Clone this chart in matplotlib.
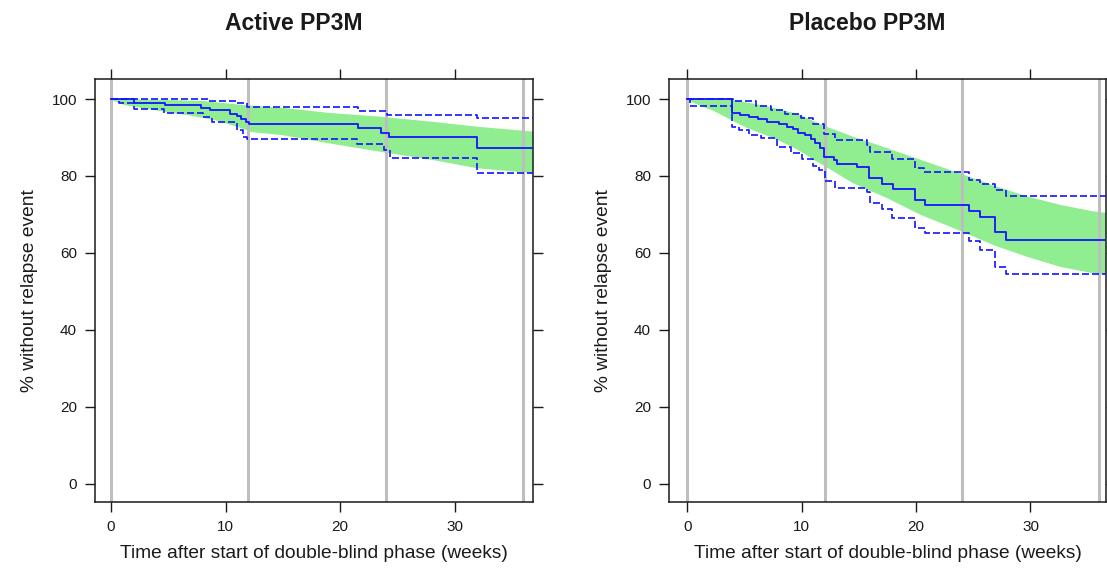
import matplotlib
matplotlib.use("Agg")
import matplotlib.pyplot as plt

plt.rcParams['font.family'] = ['Liberation Sans', 'DejaVu Sans']

# ---------------- data ----------------
titles = ["Active PP3M", "Placebo PP3M"]
xlabel = "Time after start of double-blind phase (weeks)"
ylabel = "% without relapse event"
xticks = [0, 10, 20, 30]
yticks = [0, 20, 40, 60, 80, 100]
ref_weeks = [0, 12, 24, 36]

# Active: Kaplan-Meier estimate (step, post)
act_km_t = [0, 2.0, 4.7, 7.9, 8.6, 10.4, 11.0, 11.35, 11.75, 12.05, 21.6, 23.6, 24.3, 32.0, 38]
act_km_s = [100, 99.0, 98.4, 97.7, 97.1, 96.2, 95.6, 94.9, 94.0, 93.4, 92.5, 91.3, 90.2, 87.4, 87.4]
act_up_t = [0, 8.5, 11.0, 11.9, 21.6, 24.1, 32.0, 38]
act_up_s = [100, 99.6, 98.9, 97.8, 97.0, 95.8, 95.0, 95.0]
act_lo_t = [0, 0.73, 2.0, 4.66, 8.07, 8.8, 11.0, 11.56, 11.85, 21.5, 23.8, 24.37, 32.0, 38]
act_lo_s = [100, 98.9, 97.3, 96.3, 95.4, 94.1, 91.9, 90.2, 89.5, 88.3, 86.8, 84.8, 80.7, 80.7]
# Active: shaded band
act_band_up_t = [0, 4, 8, 11.7, 15, 19, 23.5, 28, 32, 37]
act_band_up_s = [100, 99.8, 99.5, 98.4, 97.7, 96.4, 95.4, 94.1, 92.8, 91.5]
act_band_lo_t = [0, 1.2, 3.8, 6.7, 9.1, 11.1, 12.3, 15, 19, 23.5, 28, 32, 37]
act_band_lo_s = [99.8, 98.4, 97.1, 95.8, 94.5, 92.7, 91.4, 90.6, 88.5, 86.3, 84.2, 82.0, 80.7]

# Placebo: Kaplan-Meier estimate
pla_km_t = [0, 3.9, 4.6, 5.4, 6.2, 7.0, 8.0, 8.7, 9.2, 9.7, 10.3, 10.8, 11.2, 11.6, 11.95,
            12.8, 13.1, 14.8, 15.9, 17.0, 18.0, 19.9, 20.8, 24.6, 25.6, 26.9, 27.9, 38]
pla_km_s = [100, 96.4, 95.9, 95.3, 94.7, 94.0, 93.4, 92.7, 92.1, 91.3, 90.6, 89.7, 88.5, 87.2, 85.0,
            84.2, 83.2, 82.4, 79.4, 78.0, 76.5, 73.7, 72.5, 71.0, 69.4, 65.4, 63.4, 63.4]
pla_up_t = [0, 4.0, 6.0, 7.3, 8.5, 9.9, 11.0, 11.95, 12.9, 15.7, 16.0, 17.9, 19.9, 20.7,
            24.6, 25.6, 26.9, 27.9, 38]
pla_up_s = [100, 99.5, 98.3, 97.1, 96.2, 95.0, 93.4, 90.9, 89.3, 88.0, 86.3, 84.4, 82.0, 81.1,
            79.0, 78.0, 76.3, 74.9, 74.9]
pla_lo_t = [0, 0.2, 3.9, 4.5, 5.36, 6.4, 7.8, 9.1, 10.0, 11.0, 11.5, 12.0, 12.9, 15.7, 16.0,
            17.0, 17.9, 19.9, 20.8, 24.6, 25.6, 26.9, 27.9, 38]
pla_lo_s = [100, 98.2, 92.6, 91.9, 90.6, 89.8, 87.6, 85.9, 84.4, 82.5, 81.6, 78.7, 76.8, 75.9, 72.9,
            71.4, 69.2, 66.4, 65.1, 63.1, 60.9, 56.3, 54.5, 54.5]
# Placebo: shaded band
pla_band_up_t = [0, 3.9, 6.7, 9.6, 12, 14.5, 17.5, 20.4, 23.9, 26.8, 29.7, 32.6, 35.5, 37]
pla_band_up_s = [100, 99.8, 98.3, 96.2, 93.0, 90.2, 87.2, 84.2, 80.6, 77.5, 74.7, 72.5, 70.8, 70.3]
pla_band_lo_t = [0, 2.3, 3.75, 5.2, 6.7, 8.1, 9.6, 11.0, 12.5, 14.5, 17.5, 20.4, 23.9, 26.8,
                 29.7, 32.6, 35.5, 37]
pla_band_lo_s = [99.6, 96.9, 94.7, 92.5, 90.8, 89.1, 86.9, 84.3, 81.7, 78.1, 74.2, 69.9, 65.7, 62.0,
                 59.0, 56.4, 54.7, 54.2]

panels = [
    dict(title=titles[0], km=(act_km_t, act_km_s), up=(act_up_t, act_up_s), lo=(act_lo_t, act_lo_s),
         bu=(act_band_up_t, act_band_up_s), bl=(act_band_lo_t, act_band_lo_s)),
    dict(title=titles[1], km=(pla_km_t, pla_km_s), up=(pla_up_t, pla_up_s), lo=(pla_lo_t, pla_lo_s),
         bu=(pla_band_up_t, pla_band_up_s), bl=(pla_band_lo_t, pla_band_lo_s)),
]

# ---------------- figure ----------------
W, H = 1107, 570
fig = plt.figure(figsize=(W / 100, H / 100), dpi=100)

boxes = [(95, 533, (-1.4, 36.85), 294), (669, 1106, (-1.6, 36.6), 867)]
top_px, bot_px = 79, 502
ylim = (-4.7, 105.2)

line_col = '#1414ff'
band_col = '#90ee90'
grey = '#bebebe'
ink = '#1a1a1a'

for p, (x0, x1, xl, tx) in zip(panels, boxes):
    ax = fig.add_axes([x0 / W, 1 - bot_px / H, (x1 - x0) / W, (bot_px - top_px) / H])
    ax.set_xlim(*xl)
    ax.set_ylim(*ylim)

    ax.fill(list(p['bu'][0]) + list(p['bl'][0])[::-1],
            list(p['bu'][1]) + list(p['bl'][1])[::-1],
            color=band_col, lw=0, zorder=1)

    for w in ref_weeks:
        ax.axvline(w, color=grey, lw=2.2, zorder=2)

    ax.plot(*p['km'], drawstyle='steps-post', color=line_col, lw=1.3, zorder=4)
    for key in ('up', 'lo'):
        ln, = ax.plot(*p[key], drawstyle='steps-post', color=line_col, lw=1.2, zorder=3)
        ln.set_dashes((4.2, 1.8))

    ax.set_xticks(xticks)
    ax.set_yticks(yticks)
    ax.tick_params(direction='out', length=7, width=1, labelsize=11, colors=ink,
                   top=True, right=True, labeltop=False, labelright=False, pad=6)
    for s in ax.spines.values():
        s.set_linewidth(1.1)
        s.set_color(ink)
    ax.set_xlabel(xlabel, fontsize=13.8, color=ink, labelpad=8)
    ax.set_ylabel(ylabel, fontsize=13.8, color=ink, labelpad=10)
    fig.text(tx / W, 1 - 24 / H, p['title'], fontsize=16.5, fontweight='bold',
             ha='center', va='center', color=ink)

fig.savefig('out.png', dpi=100)
